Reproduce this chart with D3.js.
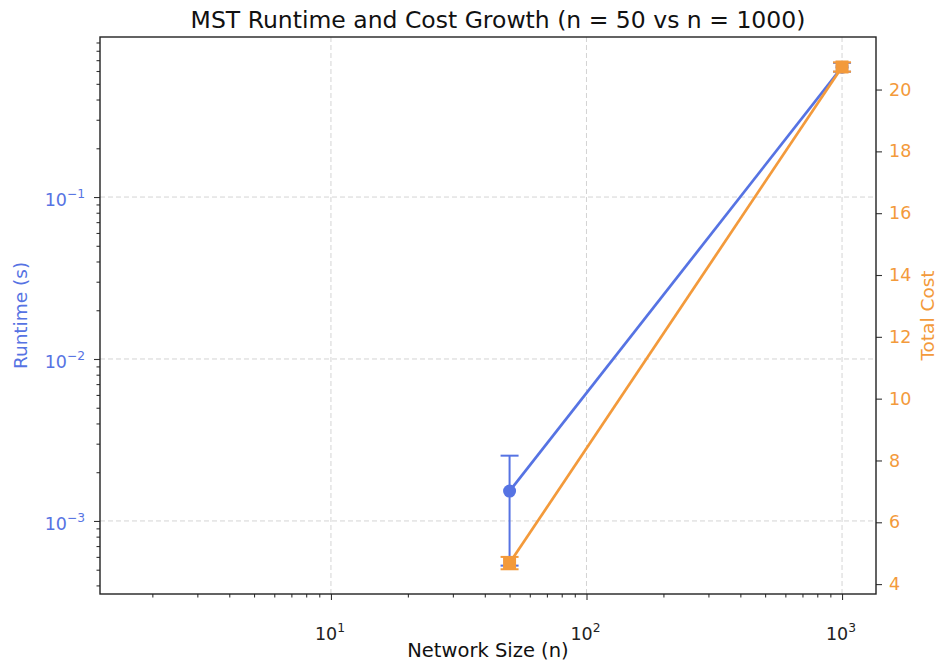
<!DOCTYPE html>
<html>
<head>
<meta charset="utf-8">
<script src="https://cdn.jsdelivr.net/npm/d3@7"></script>
<style>
  body { margin: 0; background: #fff; }
  text { font-family: "DejaVu Sans", sans-serif; }
</style>
</head>
<body>
<div id="chart"></div>
<script>
// data
const sizes = [50, 1000];
const runtimeMean = [0.00153, 0.634];
const runtimeErr = [0.0010, 0.040];
const costMean = [4.68, 20.73];
const costErr = [0.20, 0.15];

const xTicks = [10, 100, 1000];
const xTickExp = ["1", "2", "3"];
const rtTicks = [0.001, 0.01, 0.1];
const rtTickExp = ["\u22123", "\u22122", "\u22121"];
const costTicks = [4, 6, 8, 10, 12, 14, 16, 18, 20];

const width = 939, height = 663;
const plot = {left: 100, right: 876, top: 37, bottom: 594};

const blue = "#5673e3";
const orange = "#f39a3b";
const tickFont = 17.5;

let svg = d3.select("#chart")
    .append("svg")
    .attr("width", width)
    .attr("height", height);

let x = d3.scaleLog()
    .domain([1.248, 1358])
    .range([plot.left, plot.right]);

let yRt = d3.scaleLog()
    .domain([0.000354, 0.973])
    .range([plot.bottom, plot.top]);

let yCost = d3.scaleLinear()
    .domain([3.68, 21.70])
    .range([plot.bottom, plot.top]);

// grid lines (major ticks only)
let grid = svg.append("g")
    .attr("stroke", "#cfcfcf")
    .attr("stroke-width", 0.9)
    .attr("stroke-dasharray", "5,3");

grid.selectAll("line.gx").data(xTicks).enter()
    .append("line")
    .attr("x1", d => x(d)).attr("x2", d => x(d))
    .attr("y1", plot.top).attr("y2", plot.bottom);

grid.selectAll("line.gy").data(rtTicks).enter()
    .append("line")
    .attr("x1", plot.left).attr("x2", plot.right)
    .attr("y1", d => yRt(d)).attr("y2", d => yRt(d));

// minor tick values for log axes
function minorTicks(scale) {
    let [a, b] = scale.domain();
    let out = [];
    for (let e = Math.floor(Math.log10(a)); e <= Math.ceil(Math.log10(b)); e++) {
        for (let m = 2; m <= 9; m++) {
            let v = m * Math.pow(10, e);
            if (v >= a && v <= b) out.push(v);
        }
    }
    return out;
}

// x axis
let xAxis = svg.append("g").attr("transform", `translate(0, ${plot.bottom})`);
xAxis.call(d3.axisBottom(x).tickValues(xTicks).tickSize(6).tickFormat(""));
xAxis.append("g").call(d3.axisBottom(x).tickValues(minorTicks(x)).tickSize(3.5).tickFormat(""));
xAxis.selectAll("path.domain").remove();
xAxis.selectAll("line").attr("stroke", "#333").attr("stroke-width", 1.1);

svg.selectAll("text.xt").data(xTicks).enter()
    .append("text")
    .attr("x", d => x(d) - 1)
    .attr("y", plot.bottom + 46)
    .attr("text-anchor", "middle")
    .attr("font-size", tickFont)
    .attr("fill", "#222")
    .each(function(d, i) {
        let t = d3.select(this);
        t.append("tspan").text("10");
        t.append("tspan").attr("dy", -8).attr("font-size", tickFont * 0.7).text(xTickExp[i]);
    });

// left axis (runtime)
let yAxisL = svg.append("g").attr("transform", `translate(${plot.left}, 0)`);
yAxisL.call(d3.axisLeft(yRt).tickValues(rtTicks).tickSize(6).tickFormat(""));
yAxisL.append("g").call(d3.axisLeft(yRt).tickValues(minorTicks(yRt)).tickSize(3.5).tickFormat(""));
yAxisL.selectAll("path.domain").remove();
yAxisL.selectAll("line").attr("stroke", "#333").attr("stroke-width", 1.1);

svg.selectAll("text.yt").data(rtTicks).enter()
    .append("text")
    .attr("x", plot.left - 15)
    .attr("y", d => yRt(d) + 9)
    .attr("text-anchor", "end")
    .attr("font-size", tickFont)
    .attr("fill", blue)
    .each(function(d, i) {
        let t = d3.select(this);
        t.append("tspan").text("10");
        t.append("tspan").attr("dy", -8).attr("font-size", tickFont * 0.7).text(rtTickExp[i]);
    });

// right axis (cost)
let yAxisR = svg.append("g").attr("transform", `translate(${plot.right}, 0)`);
yAxisR.call(d3.axisRight(yCost).tickValues(costTicks).tickSize(6).tickPadding(7)
    .tickFormat(d3.format("d")));
yAxisR.selectAll("path.domain").remove();
yAxisR.selectAll("line").attr("stroke", "#333").attr("stroke-width", 1.1);
yAxisR.selectAll("text")
    .attr("font-size", tickFont)
    .attr("fill", orange)
    .style("font-family", "DejaVu Sans");

// frame
svg.append("rect")
    .attr("x", plot.left).attr("y", plot.top)
    .attr("width", plot.right - plot.left)
    .attr("height", plot.bottom - plot.top)
    .attr("fill", "none")
    .attr("stroke", "#222")
    .attr("stroke-width", 1.4);

// runtime series (blue)
let rtLine = d3.line().x((d, i) => x(sizes[i])).y(d => yRt(d));
svg.append("path")
    .datum(runtimeMean)
    .attr("d", rtLine)
    .attr("fill", "none")
    .attr("stroke", blue)
    .attr("stroke-width", 2.7);

let rtErr = svg.append("g").attr("stroke", blue).attr("stroke-width", 2);
sizes.forEach(function(n, i) {
    let lo = runtimeMean[i] - runtimeErr[i], hi = runtimeMean[i] + runtimeErr[i];
    let cx = x(n);
    rtErr.append("line").attr("x1", cx).attr("x2", cx).attr("y1", yRt(lo)).attr("y2", yRt(hi));
    [lo, hi].forEach(v => rtErr.append("line")
        .attr("x1", cx - 9).attr("x2", cx + 9)
        .attr("y1", yRt(v)).attr("y2", yRt(v)));
});

svg.selectAll("circle.rt").data(runtimeMean).enter()
    .append("circle")
    .attr("cx", (d, i) => x(sizes[i]))
    .attr("cy", d => yRt(d))
    .attr("r", 6.5)
    .attr("fill", blue);

// cost series (orange)
let costLine = d3.line().x((d, i) => x(sizes[i])).y(d => yCost(d));
svg.append("path")
    .datum(costMean)
    .attr("d", costLine)
    .attr("fill", "none")
    .attr("stroke", orange)
    .attr("stroke-width", 2.7);

let cErr = svg.append("g").attr("stroke", orange).attr("stroke-width", 2);
sizes.forEach(function(n, i) {
    let lo = costMean[i] - costErr[i], hi = costMean[i] + costErr[i];
    let cx = x(n);
    cErr.append("line").attr("x1", cx).attr("x2", cx).attr("y1", yCost(lo)).attr("y2", yCost(hi));
    [lo, hi].forEach(v => cErr.append("line")
        .attr("x1", cx - 9).attr("x2", cx + 9)
        .attr("y1", yCost(v)).attr("y2", yCost(v)));
});

svg.selectAll("rect.cost").data(costMean).enter()
    .append("rect")
    .attr("x", (d, i) => x(sizes[i]) - 6.5)
    .attr("y", d => yCost(d) - 6.5)
    .attr("width", 13)
    .attr("height", 13)
    .attr("fill", orange);

// labels
svg.append("text")
    .attr("x", (plot.left + plot.right) / 2 + 10)
    .attr("y", 28)
    .attr("text-anchor", "middle")
    .attr("font-size", 23.5)
    .attr("fill", "#111")
    .text("MST Runtime and Cost Growth (n = 50 vs n = 1000)");

svg.append("text")
    .attr("x", (plot.left + plot.right) / 2)
    .attr("y", 657)
    .attr("text-anchor", "middle")
    .attr("font-size", 19.5)
    .attr("fill", "#111")
    .text("Network Size (n)");

svg.append("text")
    .attr("transform", `translate(27, ${(plot.top + plot.bottom) / 2}) rotate(-90)`)
    .attr("text-anchor", "middle")
    .attr("font-size", 18.5)
    .attr("fill", blue)
    .text("Runtime (s)");

svg.append("text")
    .attr("transform", `translate(934, ${(plot.top + plot.bottom) / 2}) rotate(-90)`)
    .attr("text-anchor", "middle")
    .attr("font-size", 18.5)
    .attr("fill", orange)
    .text("Total Cost");
</script>
</body>
</html>
